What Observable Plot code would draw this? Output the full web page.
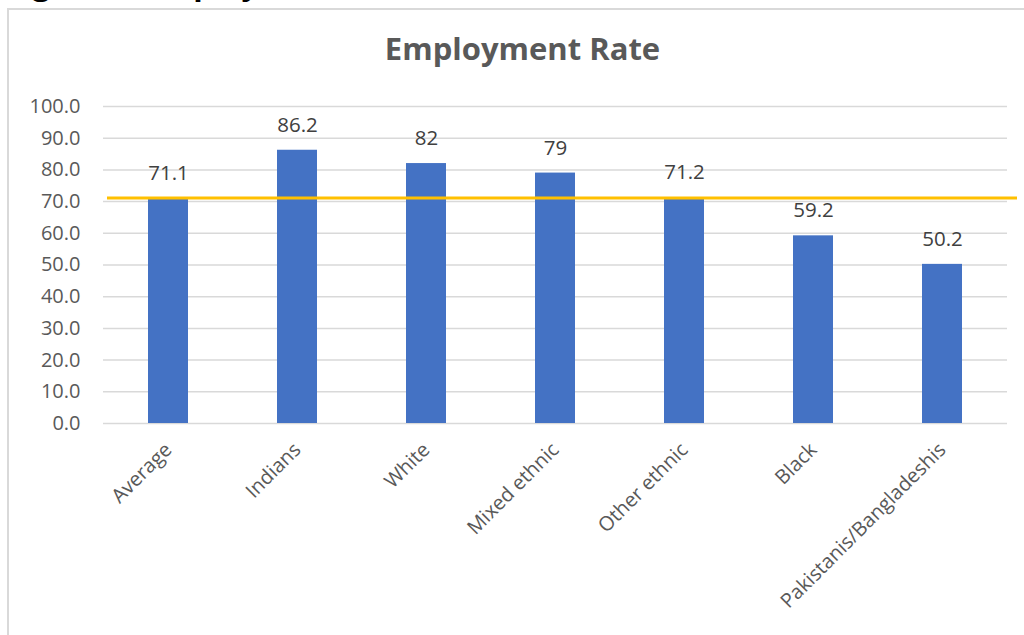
<!DOCTYPE html>
<html>
<head>
<meta charset="utf-8">
<script src="https://cdn.jsdelivr.net/npm/d3@7"></script>
<script src="https://cdn.jsdelivr.net/npm/@observablehq/plot@0.6"></script>
<style>
  html, body { margin: 0; padding: 0; background: #fff; overflow: hidden; }
  #wrap { position: relative; width: 1024px; height: 635px; overflow: hidden; }
  #frame { position: absolute; left: 7px; top: 8px; width: 1100px; height: 700px; border: 2px solid #d9d9d9; box-sizing: border-box; }
  #figtitle { position: absolute; left: 6px; top: -38px; font: bold 31px "Open Sans", sans-serif; color: #000; white-space: nowrap; line-height: 42px; }
  #chart { position: absolute; left: 0; top: 0; }
</style>
</head>
<body>
<div id="wrap">
  <div id="figtitle">Figure 1: Employment Rate</div>
  <div id="frame"></div>
  <div id="chart"></div>
</div>
<script>
const chartTitle = "Employment Rate";
const groups = ["Average", "Indians", "White", "Mixed ethnic", "Other ethnic", "Black", "Pakistanis/Bangladeshis"];
const rates = [71.1, 86.2, 82, 79, 71.2, 59.2, 50.2];
const averageRate = [71.1];
const yTicks = [0, 10, 20, 30, 40, 50, 60, 70, 80, 90, 100];

const data = groups.map((g, i) => ({group: g, value: rates[i]}));
const font = "'Open Sans', sans-serif";

const chart = Plot.plot({
  width: 1024,
  height: 635,
  marginLeft: 103,
  marginRight: 17,
  marginTop: 106,
  marginBottom: 212,
  style: {fontFamily: font, background: "transparent", overflow: "visible"},
  x: {domain: groups, paddingInner: 0.69, paddingOuter: 0.345, label: null},
  y: {domain: [0, 100], label: null},
  marks: [
    Plot.gridY(yTicks, {stroke: "#d9d9d9", strokeOpacity: 1, strokeWidth: 1.5}),
    Plot.axisY(yTicks, {tickSize: 0, tickPadding: 23, tickFormat: d3.format(".1f"), fontSize: 20, fill: "#595959", label: null}),
    Plot.axisX({tickSize: 0, tickPadding: 23, tickRotate: -45, fontSize: 20, fill: "#595959", label: null}),
    Plot.barY(data, {x: "group", y: "value", fill: "#4472C4"}),
    Plot.text(data, {x: "group", y: "value", text: d => String(d.value), dy: -25, fontSize: 20.5, fill: "#404040"}),
    Plot.ruleY(averageRate, {stroke: "#FFC000", strokeWidth: 3, insetLeft: 4, insetRight: -10}),
    Plot.text([chartTitle], {frameAnchor: "top", lineAnchor: "middle", dy: -56, dx: -33, fontSize: 31, fontWeight: "bold", fill: "#595959"})
  ]
});
document.getElementById("chart").appendChild(chart);
</script>
</body>
</html>
